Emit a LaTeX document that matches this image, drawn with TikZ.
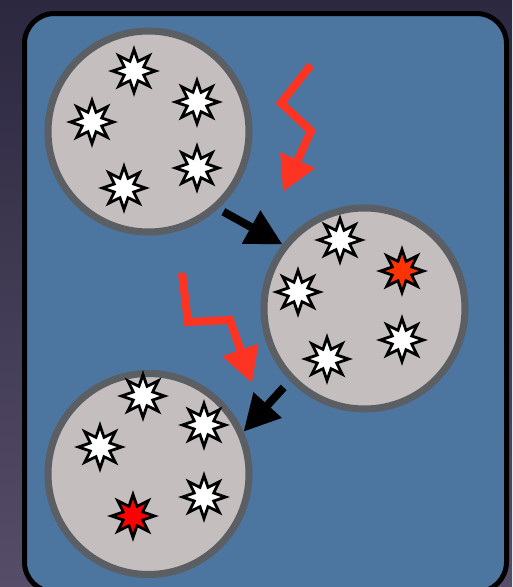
\documentclass[tikz,border=0pt]{standalone}
\usetikzlibrary{arrows.meta,calc}
\definecolor{bgtop}{HTML}{2C2840}
\definecolor{bgbot}{HTML}{564D68}
\definecolor{panel}{HTML}{4C75A0}
\definecolor{cellfill}{HTML}{C4BEBE}
\definecolor{cellrim}{HTML}{5B5E62}
\definecolor{boltred}{HTML}{FF3322}
\definecolor{hotred}{HTML}{FF3300}
\definecolor{pure}{HTML}{FF0000}
\tikzset{
  cell/.style={circle, draw=cellrim, fill=cellfill, line width=7pt, inner sep=0pt, minimum size=201pt},
  pics/burst/.style={code={
    \draw[line width=2.8pt, fill=#1, line join=miter]
      (90:21.5) \foreach \i in {1,...,15}{ -- ({90+\i*22.5}:{ifthenelse(mod(\i,2)==1,10.5,21.5)}) } -- cycle;
  }},
  blkarrow/.style={line width=8pt, draw=black, -{Triangle[length=36pt,width=36pt]}},
  bolt/.style={line width=8pt, draw=boltred, line join=miter, -{Triangle[length=35pt,width=36pt]}},
}
\begin{document}
\begin{tikzpicture}[x=1pt,y=-1pt]
\useasboundingbox (0,0) rectangle (512,587);
\shade[top color=bgtop, bottom color=bgbot] (0,0) rectangle (512,587);
\draw[line width=5pt, fill=panel, rounded corners=30pt] (24.5,13.5) rectangle (506.5,592);

\node[cell] (c1) at (148.5,131.5) {};
\node[cell] (c2) at (364.5,308.5) {};
\node[cell] (c3) at (148.5,474) {};

% stars in cell 1
\pic at (134,71) {burst=white};
\pic at (197,102) {burst=white};
\pic at (92,122) {burst=white};
\pic at (197,168) {burst=white};
\pic at (124,188) {burst=white};
% stars in cell 2
\pic at (340,240) {burst=white};
\pic at (402,271) {burst=hotred};
\pic at (298,292) {burst=white};
\pic at (402,340) {burst=white};
\pic at (327,359) {burst=white};
% stars in cell 3
\pic at (143,396) {burst=white};
\pic at (204,425) {burst=white};
\pic at (100,447) {burst=white};
\pic at (204,497) {burst=white};
\pic at (133,516) {burst=pure};

% black arrows between cells
\draw[blkarrow, shorten <=6pt] (c1.-48) -- (c2.142);
\draw[blkarrow, shorten <=9pt] (c2.-136) -- (c3.24);

% lightning bolts
\draw[bolt] (311,65) -- (281,103) -- (311,131) -- (283,192);
\draw[bolt] (182,273) -- (188,322) -- (230,320) -- (252,383);
\end{tikzpicture}
\end{document}
